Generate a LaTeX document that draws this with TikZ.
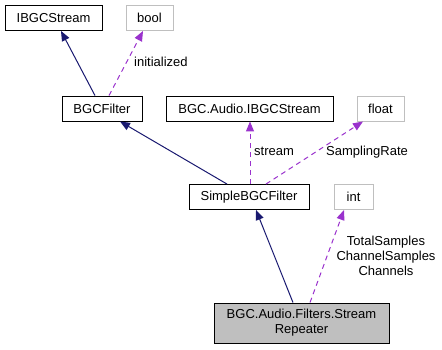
\documentclass[tikz,border=0pt]{standalone}
\usepackage{fontspec}
\setmainfont{Liberation Sans}
\usetikzlibrary{arrows.meta,calc}
\definecolor{edgeblue}{HTML}{191970}
\definecolor{edgepurple}{HTML}{9A32CD}
\definecolor{boxgray}{HTML}{BFBFBF}
\begin{document}
\begin{tikzpicture}[x=1pt,y=-1pt,
  every node/.style={font=\fontsize{13}{15}\selectfont, inner sep=0pt},
  cls/.style={draw=black, line width=0.9pt, fill=white, minimum height=25pt, align=center},
  prim/.style={draw=boxgray, line width=1pt, fill=white, minimum height=25pt},
  cur/.style={draw=black, line width=0.9pt, fill=boxgray, minimum height=40pt, align=center},
  inherit/.style={draw=edgeblue, line width=1pt, -{Triangle[length=10pt,width=8pt]}},
  usage/.style={draw=edgepurple, line width=1pt, dash pattern=on 5pt off 4pt, -{Triangle[length=10pt,width=8pt]}},
  lbl/.style={font=\fontsize{13}{15}\selectfont, align=center}]
  \useasboundingbox (0,0) rectangle (442,349);

  % class boxes
  \node[cls, minimum width=97pt] (ibgc) at (53.5,18) {IBGCStream};
  \node[prim, minimum width=47pt] (bool) at (149.5,18) {bool};
  \node[cls, minimum width=80pt] (bgcf) at (102,108.5) {BGCFilter};
  \node[cls, minimum width=167pt] (aibgc) at (249.5,108.5) {BGC.Audio.IBGCStream};
  \node[prim, minimum width=47pt] (float) at (380.5,108.5) {float};
  \node[cls, minimum width=120pt] (simple) at (249,197) {SimpleBGCFilter};
  \node[prim, minimum width=39pt] (int) at (353.5,197) {int};
  \node[cur, minimum width=175pt] (rep) at (301.5,323) {BGC.Audio.Filters.Stream\\Repeater};

  % inheritance
  \draw[inherit] ($(bgcf.north)+(-7,0)$) -- ($(ibgc.south)+(7.5,0)$);
  \draw[inherit] ($(simple.north)+(-22,0)$) -- ($(bgcf.south)+(18,0)$);
  \draw[inherit] ($(rep.north)+(-8.5,0)$) -- ($(simple.south)+(7,0)$);

  % member usage
  \draw[usage] ($(bgcf.north)+(7,0)$) -- ($(bool.south)+(-6.5,0)$);
  \draw[usage] ($(simple.north)+(1,0)$) -- ($(aibgc.south)+(0.5,0)$);
  \draw[usage] ($(simple.north)+(17,0)$) -- ($(float.south)+(-17.5,0)$);
  \draw[usage] ($(rep.north)+(8.5,0)$) -- ($(int.south)+(-9.5,0)$);

  % member labels
  \node[lbl, anchor=west] (l1) at (134,62) {initialized};
  \node[lbl, anchor=west] (l2) at (254,151) {stream};
  \node[lbl, anchor=west] (l3) at (326,152) {SamplingRate};
  \node[lbl] (l4) at (386,256) {TotalSamples\\ChannelSamples\\Channels};
\end{tikzpicture}
\end{document}
